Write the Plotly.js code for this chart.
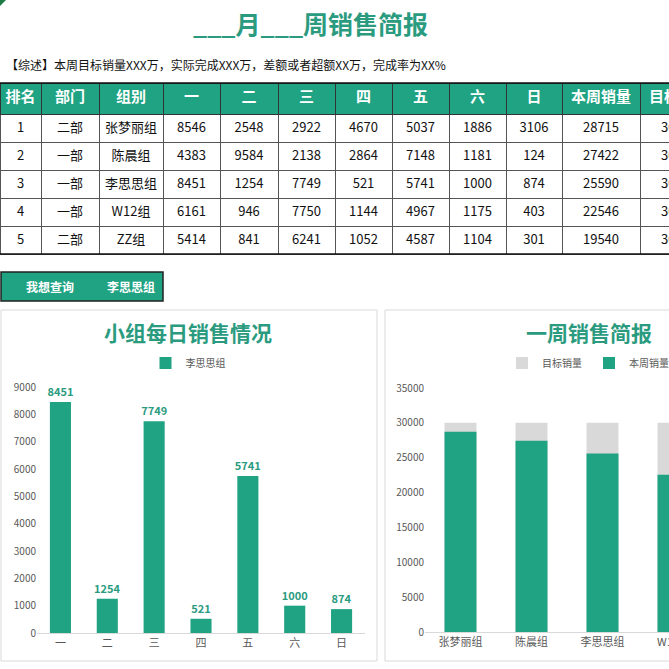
<!DOCTYPE html>
<html>
<head>
<meta charset="utf-8">
<script src="https://cdn.plot.ly/plotly-3.0.1.min.js"></script>
<style>
html,body{margin:0;padding:0;overflow:hidden;background:#fff;width:669px;height:669px;}
#chart{width:800px;height:669px;}
</style>
</head>
<body>
<div id="chart"></div>
<script>
// ---- data ----
const headers = ['排名','部门','组别','一','二','三','四','五','六','日','本周销量','目标销量'];
const ranks = [1,2,3,4,5];
const depts = ['二部','一部','一部','一部','二部'];
const groups = ['张梦丽组','陈晨组','李思思组','W12组','ZZ组'];
const mon = [8546,4383,8451,6161,5414];
const tue = [2548,9584,1254,946,841];
const wed = [2922,2138,7749,7750,6241];
const thu = [4670,2864,521,1144,1052];
const fri = [5037,7148,5741,4967,4587];
const sat = [1886,1181,1000,1175,1104];
const sun = [3106,124,874,403,301];
const weekTotal = [28715,27422,25590,22546,19540];
const target = [30000,30000,30000,30000,30000];
const days = ['一','二','三','四','五','六','日'];
const queryGroup = '李思思组';

// ---- layout helpers ----
const W = 800, H = 669;
const px = v => v / W;
const py = v => 1 - v / H;
const GREEN = '#1fa383';
const TGREEN = '#2b9b80';
const FONT = 'Noto Sans CJK SC, Noto Sans, sans-serif';

const qi = groups.indexOf(queryGroup);
const dayCols = [mon,tue,wed,thu,fri,sat,sun];
const groupDaily = dayCols.map(c => c[qi]);

const table = {
  type: 'table',
  domain: {x: [0, px(718)], y: [py(268), py(83)]},
  columnwidth: [41,58,64,57,58,57,57,57,57,56,78,78],
  header: {
    values: headers,
    fill: {color: GREEN},
    line: {color: '#333', width: 1},
    font: {family: FONT, size: 15, color: '#fff', weight: 'bold'},
    align: 'center',
    height: 31
  },
  cells: {
    values: [ranks, depts, groups, mon, tue, wed, thu, fri, sat, sun, weekTotal, target],
    fill: {color: '#fff'},
    line: {color: '#555', width: 1},
    font: {family: FONT, size: 13, color: '#111'},
    align: 'center',
    height: 28
  }
};

const dailyBar = {
  type: 'bar', x: days, y: groupDaily, name: queryGroup,
  xaxis: 'x', yaxis: 'y', legend: 'legend',
  marker: {color: GREEN},
  text: groupDaily, textposition: 'outside', cliponaxis: false, constraintext: 'none',
  textfont: {family: FONT, size: 11, color: TGREEN, weight: 'bold'}
};
const targetBar = {
  type: 'bar', x: groups, y: target, name: '目标销量',
  xaxis: 'x2', yaxis: 'y2', legend: 'legend2',
  marker: {color: '#d9d9d9'}
};
const totalBar = {
  type: 'bar', x: groups, y: weekTotal, name: '本周销量',
  xaxis: 'x2', yaxis: 'y2', legend: 'legend2',
  marker: {color: GREEN}
};

const tickFont = {family: FONT, size: 10, color: '#595959'};
const legFont = {family: FONT, size: 10, color: '#595959'};
const layout = {
  width: W, height: H,
  margin: {l: 0, r: 0, t: 0, b: 0},
  paper_bgcolor: '#fff', plot_bgcolor: '#fff',
  barmode: 'overlay',
  bargap: 0.55,
  font: {family: FONT},
  xaxis: {domain: [px(37), px(365)], anchor: 'y', showgrid: false, showline: true, linecolor: '#d9d9d9',
          tickfont: {family: FONT, size: 11, color: '#595959'}, ticks: '', fixedrange: true},
  yaxis: {domain: [py(633), py(387)], anchor: 'x', range: [0, 9000], dtick: 1000, showgrid: false,
          zeroline: false, tickfont: tickFont, ticks: '', tickformat: 'd', fixedrange: true},
  xaxis2: {domain: [px(425), px(780)], anchor: 'y2', showgrid: false, showline: true, linecolor: '#d9d9d9',
          tickfont: {family: FONT, size: 11, color: '#595959'}, ticks: '', fixedrange: true},
  yaxis2: {domain: [py(632), py(388)], anchor: 'x2', range: [0, 35000], dtick: 5000, showgrid: false,
          zeroline: false, tickfont: tickFont, ticks: '', tickformat: 'd', fixedrange: true},
  legend: {orientation: 'h', x: px(190), xanchor: 'center', y: py(363), yanchor: 'middle',
           itemwidth: 30, entrywidth: 44, font: legFont, bgcolor: 'rgba(0,0,0,0)'},
  legend2: {orientation: 'h', x: px(589), xanchor: 'center', y: py(363), yanchor: 'middle',
           itemwidth: 30, entrywidth: 42, font: legFont, bgcolor: 'rgba(0,0,0,0)', traceorder: 'normal'},
  showlegend: true,
  shapes: [
    {type: 'path', xref: 'paper', yref: 'paper',
     path: 'M0,1 L' + px(6) + ',1 L0,' + py(6) + ' Z', fillcolor: '#1e7b45', line: {width: 0}},
    {type: 'rect', xref: 'paper', yref: 'paper', x0: px(1), x1: px(377), y0: py(661), y1: py(310),
     line: {color: '#d9d9d9', width: 1}, fillcolor: 'rgba(0,0,0,0)', layer: 'below'},
    {type: 'rect', xref: 'paper', yref: 'paper', x0: px(385), x1: px(795), y0: py(661), y1: py(310),
     line: {color: '#d9d9d9', width: 1}, fillcolor: 'rgba(0,0,0,0)', layer: 'below'},
    {type: 'rect', xref: 'paper', yref: 'paper', x0: px(1), x1: px(163), y0: py(301), y1: py(272),
     line: {color: '#222', width: 1.5}, fillcolor: GREEN},
    {type: 'line', xref: 'paper', yref: 'paper', x0: 0, x1: px(718), y0: py(83), y1: py(83),
     line: {color: '#111', width: 1.5}},
    {type: 'line', xref: 'paper', yref: 'paper', x0: 0, x1: px(718), y0: py(254), y1: py(254),
     line: {color: '#111', width: 1.5}}
  ],
  annotations: [
    {xref: 'paper', yref: 'paper', x: px(310), y: py(23), xanchor: 'center', yanchor: 'middle', showarrow: false,
     text: '<b>___月___周销售简报</b>', font: {family: FONT, size: 25, color: TGREEN}},
    {xref: 'paper', yref: 'paper', x: px(4), y: py(64), xanchor: 'left', yanchor: 'middle', showarrow: false,
     text: '【综述】本周目标销量XXX万，实际完成XXX万，差额或者超额XX万，完成率为XX%',
     font: {family: FONT, size: 12, color: '#111'}},
    {xref: 'paper', yref: 'paper', x: px(50), y: py(286), xanchor: 'center', yanchor: 'middle', showarrow: false,
     text: '<b>我想查询</b>', font: {family: FONT, size: 12, color: '#fff'}},
    {xref: 'paper', yref: 'paper', x: px(131), y: py(286), xanchor: 'center', yanchor: 'middle', showarrow: false,
     text: '<b>' + queryGroup + '</b>', font: {family: FONT, size: 12, color: '#fff'}},
    {xref: 'paper', yref: 'paper', x: px(188), y: py(332), xanchor: 'center', yanchor: 'middle', showarrow: false,
     text: '<b>小组每日销售情况</b>', font: {family: FONT, size: 21, color: TGREEN}},
    {xref: 'paper', yref: 'paper', x: px(589), y: py(332), xanchor: 'center', yanchor: 'middle', showarrow: false,
     text: '<b>一周销售简报</b>', font: {family: FONT, size: 21, color: TGREEN}}
  ]
};

Plotly.newPlot('chart', [table, dailyBar, targetBar, totalBar], layout, {displayModeBar: false, staticPlot: true});
</script>
</body>
</html>
